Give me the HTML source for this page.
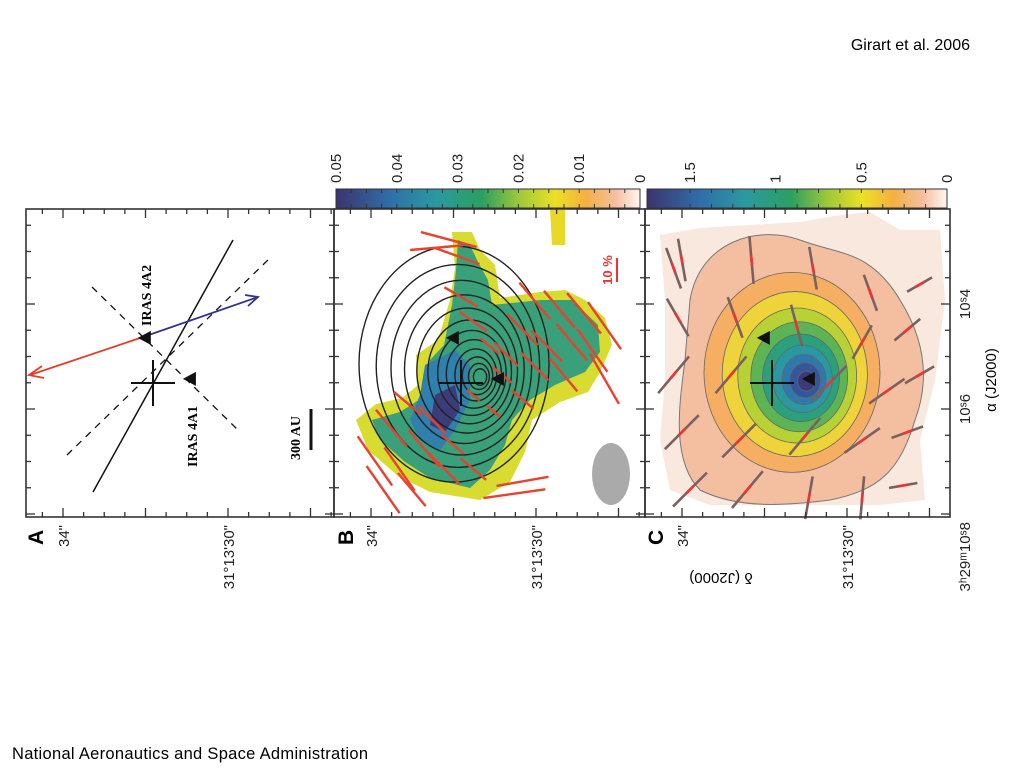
<!DOCTYPE html>
<html><head><meta charset="utf-8"><style>
html,body{margin:0;padding:0;background:#fff;width:1024px;height:768px;overflow:hidden}
svg{display:block;font-family:"Liberation Sans",sans-serif}
</style></head><body>
<svg id="fig" width="1024" height="768">
<defs>
<linearGradient id="cmap" x1="0" x2="1" y1="0" y2="0">
<stop offset="0" stop-color="#3b3470"/><stop offset="0.18" stop-color="#2f6fa8"/><stop offset="0.33" stop-color="#2a9aa0"/><stop offset="0.48" stop-color="#2aa060"/><stop offset="0.6" stop-color="#9cc83a"/><stop offset="0.72" stop-color="#ece024"/><stop offset="0.82" stop-color="#f4b040"/><stop offset="0.92" stop-color="#f5bfa0"/><stop offset="1" stop-color="#fff6ee"/>
</linearGradient>
</defs>
<text x="970" y="50" font-size="16" text-anchor="end">Girart et al. 2006</text>
<text x="12" y="759" font-size="16.5" textLength="356">National Aeronautics and Space Administration</text>

<rect x="336" y="189" width="304" height="19" fill="url(#cmap)" stroke="#333"/>
<rect x="647" y="189" width="300" height="19" fill="url(#cmap)" stroke="#333"/>
<g id="cbticks" stroke="#333" stroke-width="1"></g>
<g id="cblabels" font-size="15" fill="#222"></g>

<g id="panelB-content">
<polygon fill="#d8dc30" points="452,232 472,232 480,250 495,265 500,298 540,292 565,290 585,300 605,318 612,345 600,372 588,392 560,402 532,420 525,452 510,482 480,500 430,492 398,476 368,450 356,420 376,404 402,398 418,385 416,355 438,340 450,300 455,268"/>
<polygon fill="#3aa07a" points="458,240 470,245 478,262 488,280 492,305 540,300 572,300 598,325 600,352 585,372 555,385 530,400 512,420 505,445 490,470 470,488 430,478 405,462 380,440 372,420 400,412 425,396 430,360 444,345 452,305 456,270"/>
<polygon fill="#2f80ad" points="425,365 455,350 470,365 470,400 455,430 440,450 420,440 410,420 420,395"/>
<polygon fill="#3c3c7a" points="435,395 455,385 460,410 445,432 430,425"/>
<polygon fill="#e8d828" points="550,210 565,210 565,245 552,245"/>
<ellipse cx="611" cy="474" rx="19" ry="31" fill="#aaa"/>
<text x="0" y="0" font-size="13" fill="#e33" font-weight="bold" transform="translate(612,270) rotate(-90)" text-anchor="middle">10 %</text>
<line x1="617" y1="258" x2="617" y2="282" stroke="#e33" stroke-width="2"/>
<g id="contoursB" fill="none" stroke="#222" stroke-width="1.4"></g>
</g>

<g id="panelC-content">
<polygon fill="#f8e8de" points="660,235 700,228 750,225 800,222 840,215 870,212 900,230 940,230 945,300 935,380 920,440 925,500 880,505 820,505 760,505 710,505 670,490 660,440 665,380 665,300"/>
<path fill="#f4bfa0" stroke="#777" d="M690,300 C700,240 760,225 800,240 C840,255 870,250 900,300 C925,340 930,380 915,420 C900,470 880,490 830,500 C790,505 740,510 700,490 C670,460 680,400 685,360 Z"/>
<g id="contoursC"></g>
</g>

<g id="vecB"></g>
<g id="vecC"></g>

<g>
<line x1="93" y1="492" x2="233" y2="240" stroke="#111" stroke-width="1.5"/>
<line x1="67" y1="455" x2="270" y2="258" stroke="#111" stroke-width="1.3" stroke-dasharray="7,6"/>
<line x1="92" y1="287" x2="240" y2="432" stroke="#111" stroke-width="1.3" stroke-dasharray="7,6"/>
<line x1="143" y1="337" x2="30" y2="375" stroke="#e0402a" stroke-width="1.8"/>
<polyline points="42,366 29,375 44,378" fill="none" stroke="#e0402a" stroke-width="1.8"/>
<line x1="143" y1="337" x2="258" y2="297" stroke="#33338f" stroke-width="1.8"/>
<polyline points="245,295 258,297 248,306" fill="none" stroke="#33338f" stroke-width="1.8"/>
<text font-size="14" font-weight="bold" font-family="Liberation Serif,serif" transform="translate(151,326) rotate(-90)">IRAS 4A2</text>
<text font-size="14" font-weight="bold" font-family="Liberation Serif,serif" transform="translate(197,467) rotate(-90)">IRAS 4A1</text>
<text font-size="14" font-weight="bold" font-family="Liberation Serif,serif" transform="translate(300,460) rotate(-90)">300 AU</text>
<line x1="311" y1="409" x2="311" y2="450" stroke="#111" stroke-width="3"/>
</g>

<g id="markers"></g>
<g id="frames" fill="none" stroke="#333" stroke-width="1.6"></g>
<g id="ticks" stroke="#333" stroke-width="1.3"></g>
<g id="labels" font-size="15" fill="#222"></g>

<text font-size="21" font-weight="bold" transform="translate(43,545) rotate(-90)">A</text>
<text font-size="21" font-weight="bold" transform="translate(353,545) rotate(-90)">B</text>
<text font-size="21" font-weight="bold" transform="translate(663,545) rotate(-90)">C</text>
<text font-size="15" transform="translate(721,573) rotate(180)" text-anchor="middle">δ (J2000)</text>
<text font-size="15" transform="translate(996,380) rotate(-90)" text-anchor="middle">α (J2000)</text>
</svg>
<script>
const NS='http://www.w3.org/2000/svg';
function mk(tag,attrs,parent){const e=document.createElementNS(NS,tag);for(const k in attrs)e.setAttribute(k,attrs[k]);parent.appendChild(e);return e;}
// colorbar data
const cbTicksB=[0.05,0.04,0.03,0.02,0.01,0];
const cbLabelsB=['0.05','0.04','0.03','0.02','0.01','0'];
const cbTicksC=[1.5,1,0.5,0];
const cbLabelsC=['1.5','1','0.5','0'];
// sky axes
const decMajor=[34,30];
const decLabels=['34"',"31°13'30\""];
const raMajor=[10.8,10.6,10.4];
const raLabels=['3ʰ29ᵐ10ˢ8','10ˢ6','10ˢ4'];
// polarization vectors B
const vecBdx=[-2.1,-1.5,-1.7,-0.9,-1.2,-0.4,-0.7,-1.3,-1.9,-0.2,0.3,1.3,1.5,-0.3,-0.1,0.0,0.3,1.8,2.4,3.0,3.5,1.5,2.1,2.7,3.2,1.1,1.8,2.5,0.7,1.0,3.5,1.5,0.3,0.8,-0.6];
const vecBdy=[1.9,2.1,1.1,1.6,2.6,2.1,0.9,0.5,2.6,1.5,2.1,2.7,2.4,-3.5,-3.1,-2.1,-1.5,-2.0,-1.8,-1.7,-1.4,-1.3,-0.9,-1.0,-0.8,-0.7,-0.4,-0.2,-0.9,-0.2,-0.1,0.4,0.3,0.7,-3.3];
const vecBang=[55,55,50,50,50,45,45,40,55,40,40,-8,-10,15,20,30,35,50,50,50,55,45,45,50,55,45,45,50,40,40,60,40,40,40,-5];
const vecBpct=[25,22,20,20,18,18,16,15,24,12,14,26,22,24,20,16,14,20,20,22,24,18,18,20,22,14,16,18,10,10,24,12,7,7,22];
// B-field vectors C
const vecCdx=[-2.2,-0.5,1.0,2.4,-2.3,-0.9,0.6,2.2,3.3,-2.4,-1.0,1.4,2.8,3.6,-2.2,-0.8,0.8,2.2,3.3,-2.0,-0.6,0.9,2.2,3.2,-2.4,3.6];
const vecCdy=[-3.0,-3.0,-2.8,-2.2,-1.6,-1.6,-1.4,-1.0,-1.3,-0.2,-0.2,0.0,0.2,-0.2,1.2,1.4,1.3,1.4,1.2,2.6,2.6,2.8,2.8,2.5,-2.8,-2.4];
const vecCang=[80,85,80,70,60,70,75,-60,-40,-50,-50,-45,-35,-30,-45,-45,-50,-35,-20,-45,-50,-80,-85,-10,70,-30];
const vecCpct=[18,20,18,16,18,18,18,16,14,20,20,20,18,14,20,20,20,18,14,20,20,18,18,12,18,12];
// contour levels
const contourB=[1,0.86,0.74,0.63,0.53,0.44,0.36,0.29,0.22,0.16,0.11,0.07];
const contourC=[0.8,0.66,0.54,0.44,0.35,0.27,0.2,0.14,0.08];
const contourCColors=['#f5ae62','#eed43a','#b8d236','#5cb455','#2aa07c','#2a98a0','#2f78ad','#34569a','#3b3a7a'];
// source positions offset from cross (arcsec)
const srcDx=[0.9,-0.2];
const srcDy=[-0.1,-1.1];
const srcNames=['iras-4a1','iras-4a2'];

const PX=41;
const panels=[{x0:26,x1:334},{x0:334,x1:645},{x0:645,x1:950}];
const yTop=209,yBot=517;
const crossY=383;
const decX=(p,d)=>p.x0+37+(34-d)*41.25;
const raY=s=>304+(s-10.4)/0.2*105;
const offX=(p,dx)=>p.x0+127+dx*PX;
const offY=dy=>crossY+dy*PX;
const cbXB=v=>640-v/0.05*304;
const cbXC=v=>947-v/1.5*257;

const cbt=document.getElementById('cbticks'), cbl=document.getElementById('cblabels');
for(let v=0;v<=0.05001;v+=0.0025){const x=cbXB(v);const t=mk('line',{x1:x,x2:x,y1:189,y2:193},cbt);mk('line',{x1:x,x2:x,y1:204,y2:208},cbt);}
for(let v=0;v<=1.5001;v+=0.125){const x=cbXC(v);const t=mk('line',{x1:x,x2:x,y1:189,y2:193},cbt);mk('line',{x1:x,x2:x,y1:204,y2:208},cbt);}
cbTicksB.forEach((v,i)=>{const t=mk('text',{transform:`translate(${cbXB(v)+5},183) rotate(-90)`},cbl);t.textContent=cbLabelsB[i];});
cbTicksC.forEach((v,i)=>{const t=mk('text',{transform:`translate(${cbXC(v)+5},183) rotate(-90)`},cbl);t.textContent=cbLabelsC[i];});

const cb=document.getElementById('contoursB');
contourB.forEach(L=>{const cx=482-L*28, cy=378-L*14;const e=mk('ellipse',{cx:cx,cy:cy,rx:L*95,ry:L*118},cb);});
const cc=document.getElementById('contoursC');
contourC.forEach((L,i)=>{const e=mk('ellipse',{cx:808-L*20,cy:382-L*12,rx:L*110,ry:L*125,fill:contourCColors[i],stroke:'#666','stroke-width':0.8},cc);});

const vb=document.getElementById('vecB');
vecBdx.forEach((dx,i)=>{const x=offX(panels[1],dx),y=offY(vecBdy[i]);const L=vecBpct[i]*2.4/2,a=vecBang[i]*Math.PI/180;const l=mk('line',{x1:x-L*Math.cos(a),y1:y-L*Math.sin(a),x2:x+L*Math.cos(a),y2:y+L*Math.sin(a),stroke:'#e8412f','stroke-width':2.4},vb);});
const vc=document.getElementById('vecC');
vecCdx.forEach((dx,i)=>{const x=offX(panels[2],dx),y=offY(vecCdy[i]);const L=vecCpct[i]*2.4/2,a=vecCang[i]*Math.PI/180;const l=mk('line',{x1:x-L*Math.cos(a),y1:y-L*Math.sin(a),x2:x+L*Math.cos(a),y2:y+L*Math.sin(a),stroke:'#7a6060','stroke-width':2.6},vc);mk('line',{x1:x-5*Math.cos(a),y1:y-5*Math.sin(a),x2:x+5*Math.cos(a),y2:y+5*Math.sin(a),stroke:'#e33','stroke-width':2.6},vc);});

const mg=document.getElementById('markers'),fg=document.getElementById('frames'),tg=document.getElementById('ticks'),lg=document.getElementById('labels');
panels.forEach((p,pi)=>{
  const cx=offX(p,0);
  const c=mk('path',{d:`M${cx-22},${crossY}H${cx+22}M${cx},${crossY-23}V${crossY+23}`,stroke:'#111','stroke-width':2,fill:'none'},mg);
  
  srcDx.forEach((dx,i)=>{const x=offX(p,dx),y=offY(srcDy[i]);const t=mk('polygon',{points:`${x-7},${y} ${x+6},${y-7} ${x+6},${y+7}`,fill:'#111'},mg);});
  const r=mk('rect',{x:p.x0,y:yTop,width:p.x1-p.x0,height:yBot-yTop},fg);
  for(let k=-1;k<=14;k++){const d=34.5-k*0.5;const x=decX(p,d);if(x<=p.x0+2||x>=p.x1-2)continue;const maj=(d===34||d===32||d===30||d===28);const len=maj?9:5;
    mk('line',{x1:x,x2:x,y1:yTop,y2:yTop+len},tg);mk('line',{x1:x,x2:x,y1:yBot,y2:yBot-len},tg);}
  for(let k=-4;k<=9;k++){const s=10.4+k*0.05;const y=raY(s);if(y<=yTop+2||y>=yBot)continue;const maj=(k%4===0);const len=maj?9:5;
    mk('line',{x1:p.x0,x2:p.x0+len,y1:y,y2:y},tg);mk('line',{x1:p.x1,x2:p.x1-len,y1:y,y2:y},tg);}
  decMajor.forEach((d,i)=>{const t=mk('text',{transform:`translate(${decX(p,d)+6},525) rotate(-90)`,'text-anchor':'end'},lg);t.textContent=decLabels[i];});
});
raMajor.forEach((s,i)=>{const y=raY(s);const t=mk('text',i===0?{transform:`translate(970,522) rotate(-90)`,'text-anchor':'end'}:{transform:`translate(970,${y}) rotate(-90)`,'text-anchor':'middle'},lg);t.textContent=raLabels[i];});
</script>
</body></html>
